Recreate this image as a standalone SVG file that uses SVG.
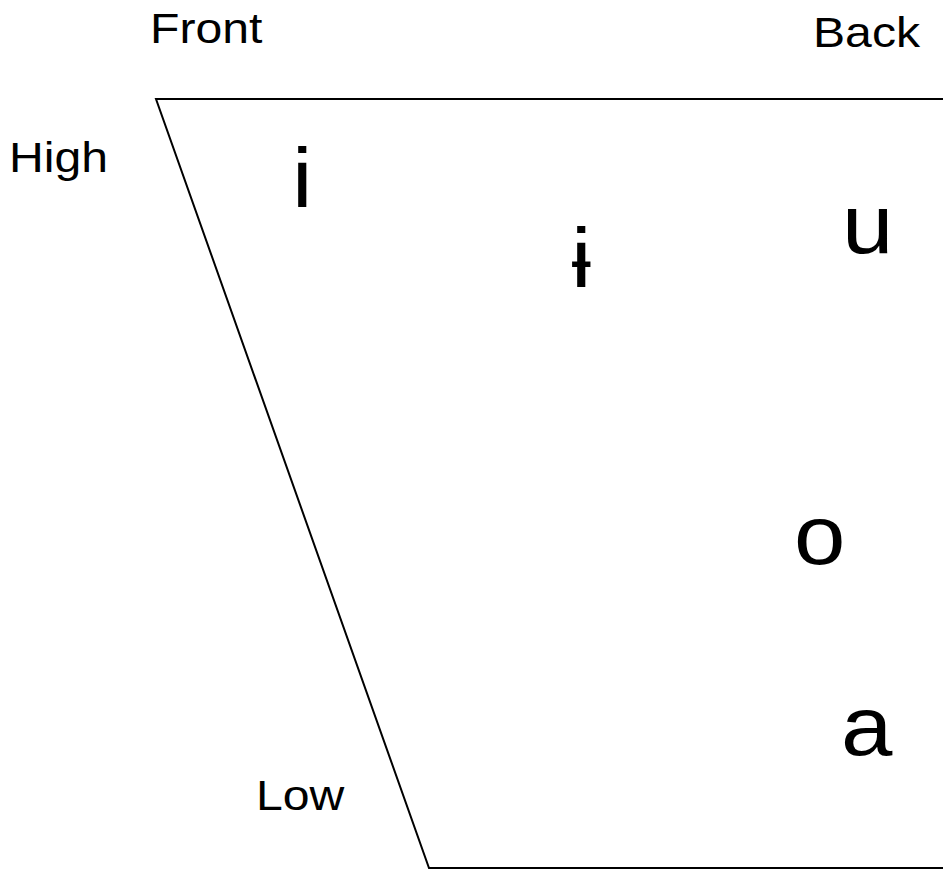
<svg xmlns="http://www.w3.org/2000/svg" width="943" height="871" viewBox="0 0 943 871">
<style>
.lbl{font-family:"Liberation Sans",Arial,sans-serif;font-size:43px;fill:#000}
.v{font-family:"Liberation Sans",Arial,sans-serif;font-size:84px;fill:#000}
.edge{fill:none;stroke:#000;stroke-width:2}
</style>
<rect width="943" height="871" fill="#fff"/>
<g id="chart">
<polyline class="edge" points="943,99 156,99 429,868 943,868"/>
</g>
<g id="labels">
<text id="front" class="lbl" transform="translate(150,43) scale(1.12,1)">Front</text>
<text id="back" class="lbl" transform="translate(813,47) scale(1.12,1)">Back</text>
<text id="high" class="lbl" transform="translate(9,172) scale(1.12,1)">High</text>
<text id="low" class="lbl" transform="translate(256,810) scale(1.12,1)">Low</text>
</g>
<g id="vowels">
<text id="v-i" class="v" transform="translate(292,207) scale(1.1,1)">i</text>
<text id="v-barred-i" class="v" transform="translate(571,287) scale(1.1,1)">ɨ</text>
<text id="v-u" class="v" transform="translate(842,253) scale(1.1,1)">u</text>
<text id="v-o" class="v" transform="translate(794,564) scale(1.1,1)">o</text>
<text id="v-a" class="v" transform="translate(841,755) scale(1.1,1)">a</text>
</g>
</svg>
